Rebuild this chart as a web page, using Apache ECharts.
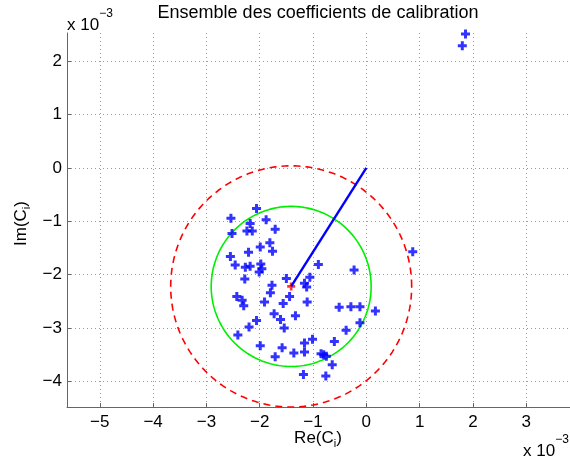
<!DOCTYPE html>
<html>
<head>
<meta charset="utf-8">
<script src="https://cdn.jsdelivr.net/npm/echarts@6/dist/echarts.min.js"></script>
<style>
  html, body { margin: 0; padding: 0; background: #fff; }
  #chart { width: 570px; height: 462px; }
</style>
</head>
<body>
<div id="chart"></div>
<script>
// Calibration coefficients C_i (units of 1e-3)
const reC = [
  -2.06, -2.54, -2.18, -1.88, -2.52, -2.24, -2.14, -1.71, -1.81, -1.99,
  -2.21, -1.76, -2.55, -2.46, -1.98, -2.27, -2.18, -1.96, -2.01, -0.90,
  -0.23, -2.28, -1.50, -1.06, -1.16, -1.12, -1.77, -1.80, -1.44, -2.43,
  -2.33, -2.30, -1.91, -1.56, -1.11, -0.51, -0.29, -0.12, 0.17, -1.73,
  -1.33, -1.61, -2.06, -1.54, -2.20, -0.12, -0.38, -2.41, -1.01, -0.60,
  -1.99, -1.16, -1.58, -1.16, -1.36, -1.71, -0.85, -0.80, -0.75, -0.64,
  -1.18, -0.76, 0.87, 1.86, 1.80
];
const imC = [
  -0.76, -0.94, -1.04, -0.97, -1.23, -1.18, -1.18, -1.15, -1.40, -1.48,
  -1.58, -1.56, -1.66, -1.82, -1.80, -1.86, -1.84, -1.89, -1.95, -1.81,
  -1.91, -2.08, -2.07, -2.05, -2.16, -2.23, -2.20, -2.34, -2.41, -2.41,
  -2.48, -2.58, -2.51, -2.54, -2.51, -2.61, -2.60, -2.60, -2.68, -2.73,
  -2.77, -2.84, -2.86, -3.00, -2.98, -2.90, -3.04, -3.13, -3.21, -3.25,
  -3.33, -3.28, -3.37, -3.45, -3.47, -3.54, -3.48, -3.50, -3.53, -3.69,
  -3.87, -3.90, -1.57, 2.51, 2.29
];
// Centre of the cloud and the two reference radii
const centre = [-1.41, -2.22];
const innerRadius = [1.5];
const outerRadius = [2.26];

// Axis ticks
const xTicks = [-5, -4, -3, -2, -1, 0, 1, 2, 3];
const yTicks = [-4, -3, -2, -1, 0, 1, 2];
const xRange = [-5.615, 3.82];
const yRange = [-4.48, 2.53];

// filled "+" marker, 9 units wide with 3-unit arms
const plusPath = 'path://M3,0H6V3H9V6H6V9H3V6H0V3H3Z';

function circlePoints(c, r) {
  const pts = [];
  const n = 240;
  for (let k = 0; k <= n; k++) {
    const t = 2 * Math.PI * k / n;
    pts.push([c[0] + r * Math.cos(t), c[1] + r * Math.sin(t)]);
  }
  return pts;
}

const minus = v => String(v).replace('-', '\u2212');
const font = '"Liberation Sans", Arial, Helvetica, sans-serif';

const chart = echarts.init(document.getElementById('chart'), null, { renderer: 'canvas' });

const gridLine = { show: true, lineStyle: { color: '#9a9a9a', type: [1, 3], width: 1 } };
const exponentRich = {
  b: { fontSize: 17, fontFamily: font, fill: '#000', padding: [9, 0, 0, 0] },
  s: { fontSize: 12, fontFamily: font, fill: '#000', verticalAlign: 'top' }
};
const nameRich = {
  b: { fontSize: 17, fontFamily: font, fill: '#000' },
  s: { fontSize: 11, fontFamily: font, fill: '#000', padding: [10, 0, 0, 0] }
};

chart.setOption({
  animation: false,
  backgroundColor: '#fff',
  textStyle: { fontFamily: font },
  grid: { left: 67, top: 33, right: 0, bottom: 55, containLabel: false },
  xAxis: {
    type: 'value',
    min: xRange[0], max: xRange[1],
    axisLine: { show: true, onZero: false, lineStyle: { color: '#666', width: 1 } },
    axisTick: { show: true, inside: true, length: 4, customValues: xTicks, lineStyle: { color: '#666' } },
    axisLabel: { customValues: xTicks, formatter: minus, color: '#000', fontSize: 17, margin: 7, fontFamily: font },
    splitLine: gridLine
  },
  yAxis: {
    type: 'value',
    min: yRange[0], max: yRange[1],
    axisLine: { show: true, onZero: false, lineStyle: { color: '#666', width: 1 } },
    axisTick: { show: true, inside: true, length: 4, customValues: yTicks, lineStyle: { color: '#666' } },
    axisLabel: { customValues: yTicks, formatter: minus, color: '#000', fontSize: 17, margin: 5, fontFamily: font },
    splitLine: gridLine
  },
  series: [
    {
      type: 'line', data: circlePoints(centre, outerRadius[0]), symbol: 'none', clip: true,
      lineStyle: { color: '#ff0000', width: 1.6, type: [7, 5] }, z: 2
    },
    {
      type: 'line', data: circlePoints(centre, innerRadius[0]), symbol: 'none', clip: true,
      lineStyle: { color: '#00ee00', width: 1.6 }, z: 2
    },
    {
      type: 'scatter', data: reC.map((x, i) => [x, imC[i]]),
      symbol: plusPath, symbolSize: 9, itemStyle: { color: '#0000ff' }, z: 3
    },
    {
      type: 'scatter', data: [centre],
      symbol: plusPath, symbolSize: 8, itemStyle: { color: '#ff0000' }, z: 3
    },
    {
      type: 'line', data: [[0, 0], centre], symbol: 'none',
      lineStyle: { color: '#0000ff', width: 2.4 }, z: 4
    }
  ],
  graphic: [
    {
      type: 'text', x: 318, y: 4,
      style: { text: 'Ensemble des coefficients de calibration', font: '18px ' + font, fill: '#000', align: 'center' }
    },
    {
      type: 'text', left: 67, top: 8,
      style: { text: '{b|x 10}{s|\u22123}', rich: exponentRich }
    },
    {
      type: 'text', left: 523, top: 434,
      style: { text: '{b|x 10}{s|\u22123}', rich: exponentRich }
    },
    {
      type: 'text', x: 318, y: 428,
      style: { text: '{b|Re(C}{s|i}{b|)}', rich: nameRich, align: 'center' }
    },
    {
      type: 'text', x: 11, y: 246, rotation: Math.PI / 2,
      style: { text: '{b|Im(C}{s|i}{b|)}', rich: nameRich }
    }
  ]
});
</script>
</body>
</html>
